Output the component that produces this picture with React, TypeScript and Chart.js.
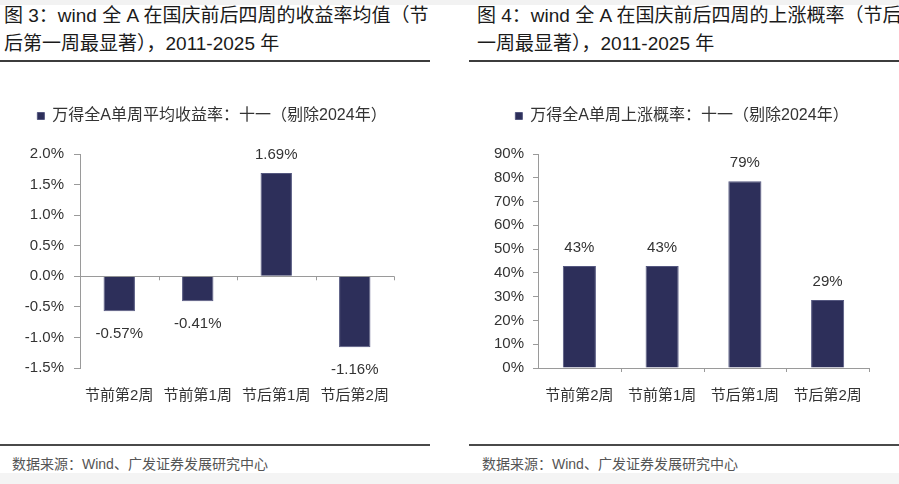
import { useEffect, useRef } from "react";
import { Chart, registerables } from "chart.js";

Chart.register(...registerables);

// data
const categories = ["节前第2周", "节前第1周", "节后第1周", "节后第2周"];
const returnValues = [-0.57, -0.41, 1.69, -1.16];
const riseValues = [42.86, 42.86, 78.57, 28.57];
const returnTicks = [-1.5, -1.0, -0.5, 0, 0.5, 1.0, 1.5, 2.0];
const riseTicks = [0, 10, 20, 30, 40, 50, 60, 70, 80, 90];
const returnLegend = "万得全A单周平均收益率：十一（剔除2024年）";
const riseLegend = "万得全A单周上涨概率：十一（剔除2024年）";

const FONT = '"Liberation Sans", Arial, "Noto Sans CJK SC", sans-serif';
const BAR = "#2d2f5a";
const AXIS = "#9a9a9a";
const TEXT = "#333333";

// extra room under the legend, and a sideways nudge of the legend box
const legendTweak = (gap: number, shift: number) => ({
  id: "legendTweak",
  afterInit(chart: any) {
    const legend = chart.legend;
    if (!legend || legend._gapped) return;
    const fit = legend.fit;
    legend.fit = function () {
      fit.call(this);
      this.height += gap;
    };
    legend._gapped = true;
  },
  afterLayout(chart: any) {
    const legend = chart.legend;
    if (!legend) return;
    legend.left += shift;
    legend.right += shift;
  },
});

// small tick marks hanging from the zero line at category boundaries
const zeroTicks = {
  id: "zeroTicks",
  afterDatasetsDraw(chart: any) {
    const { ctx } = chart;
    const xs = chart.scales.x;
    const y0 = chart.scales.y.getPixelForValue(0);
    const n = chart.data.labels.length;
    ctx.save();
    ctx.strokeStyle = AXIS;
    ctx.lineWidth = 1;
    for (let i = 1; i <= n; i++) {
      const px = Math.round(xs.left + (i * xs.width) / n) + 0.5;
      ctx.beginPath();
      ctx.moveTo(px, y0);
      ctx.lineTo(px, y0 + 4);
      ctx.stroke();
    }
    ctx.restore();
  },
};

const valueLabels = (format: (v: number) => string) => ({
  id: "valueLabels",
  afterDatasetsDraw(chart: any) {
    const { ctx } = chart;
    const meta = chart.getDatasetMeta(0);
    const data = chart.data.datasets[0].data as number[];
    ctx.save();
    ctx.font = `15px ${FONT}`;
    ctx.fillStyle = TEXT;
    ctx.textAlign = "center";
    ctx.textBaseline = "middle";
    meta.data.forEach((bar: any, i: number) => {
      const v = data[i];
      const y = v >= 0 ? bar.y - 18 : bar.y + 23;
      ctx.fillText(format(v), bar.x, y);
    });
    ctx.restore();
  },
});

type PanelProps = {
  values: number[];
  ticks: number[];
  legend: string;
  tickFormat: (v: number) => string;
  valueFormat: (v: number) => string;
  axisWidth: number;
  padRight: number;
  tickLength: number;
  tickPadding: number;
  legendShift: number;
};

const BarPanel = (p: PanelProps) => {
  const chartRef = useRef<HTMLCanvasElement>(null);

  useEffect(() => {
    if (!chartRef.current) return;

    const chartInstance = new Chart(chartRef.current, {
      type: "bar",
      data: {
        labels: categories,
        datasets: [
          {
            label: p.legend,
            data: p.values,
            backgroundColor: BAR,
            borderColor: "#555880",
            borderWidth: 1,
            barPercentage: 0.4,
            categoryPercentage: 1,
          },
        ],
      },
      options: {
        responsive: true,
        maintainAspectRatio: false,
        animation: false,
        layout: { padding: { top: 0, right: p.padRight, bottom: 0, left: 0 } },
        plugins: {
          tooltip: { enabled: false },
          legend: {
            display: true,
            position: "top",
            labels: {
              boxWidth: 7,
              boxHeight: 7,
              padding: 18,
              color: TEXT,
              font: { family: FONT, size: 16 },
            },
          },
        },
        scales: {
          x: {
            grid: { display: false, drawTicks: false },
            border: { display: false },
            ticks: {
              color: TEXT,
              padding: 19,
              font: { family: FONT, size: 15 },
              maxRotation: 0,
            },
          },
          y: {
            min: p.ticks[0],
            max: p.ticks[p.ticks.length - 1],
            afterBuildTicks: (scale: any) => {
              scale.ticks = p.ticks.map((v) => ({ value: v }));
            },
            afterFit: (scale: any) => {
              scale.width = p.axisWidth;
            },
            grid: {
              drawTicks: true,
              tickLength: p.tickLength,
              tickColor: AXIS,
              color: (ctx: any) =>
                ctx.tick && Math.abs(ctx.tick.value) < 1e-9 ? AXIS : "rgba(0,0,0,0)",
            },
            border: { display: true, color: AXIS, width: 1 },
            ticks: {
              color: TEXT,
              padding: p.tickPadding,
              font: { family: FONT, size: 15 },
              callback: (v: any) => p.tickFormat(Number(v)),
            },
          },
        },
      },
      plugins: [legendTweak(20, p.legendShift), zeroTicks, valueLabels(p.valueFormat)],
    });

    return () => {
      chartInstance.destroy();
    };
  }, []);

  return <canvas ref={chartRef}></canvas>;
};

const titleStyle: any = {
  position: "absolute",
  top: 2,
  fontSize: 19,
  fontWeight: 400,
  lineHeight: "28px",
  color: "#1a1a1a",
  whiteSpace: "nowrap",
  fontFamily: FONT,
};

const rule = (left: number, top: number, width: number, h: number, c: string): any => ({
  position: "absolute",
  left,
  top,
  width,
  height: h,
  background: c,
});

const sourceStyle: any = {
  position: "absolute",
  top: 455,
  fontSize: 14,
  lineHeight: "18px",
  color: "#555",
  whiteSpace: "nowrap",
  fontFamily: FONT,
};

export default function App() {
  return (
    <div
      style={{
        position: "fixed",
        left: 0,
        top: 0,
        width: 899,
        height: 484,
        background: "#fff",
        overflow: "hidden",
      }}
    >
      <div style={rule(0, 0, 899, 5, "#f2f2f2")} />

      <div style={{ ...titleStyle, left: 4 }}>
        图 3：wind 全 A 在国庆前后四周的收益率均值（节
        <br />
        后第一周最显著），2011-2025 年
      </div>
      <div style={{ ...titleStyle, left: 477 }}>
        图 4：wind 全 A 在国庆前后四周的上涨概率（节后第
        <br />
        一周最显著），2011-2025 年
      </div>
      <div style={rule(0, 60, 430, 2, "#3c3c3c")} />
      <div style={rule(469, 60, 430, 2, "#3c3c3c")} />

      <div style={{ position: "absolute", left: 0, top: 90, width: 430, height: 334 }}>
        <BarPanel
          values={returnValues}
          ticks={returnTicks}
          legend={returnLegend}
          tickFormat={(v) => v.toFixed(1) + "%"}
          valueFormat={(v) => v.toFixed(2) + "%"}
          axisWidth={80}
          padRight={36}
          tickLength={6}
          tickPadding={10}
          legendShift={15}
        />
      </div>
      <div style={{ position: "absolute", left: 469, top: 90, width: 430, height: 334 }}>
        <BarPanel
          values={riseValues}
          ticks={riseTicks}
          legend={riseLegend}
          tickFormat={(v) => Math.round(v) + "%"}
          valueFormat={(v) => Math.round(v) + "%"}
          axisWidth={69}
          padRight={30}
          tickLength={5}
          tickPadding={9}
          legendShift={13}
        />
      </div>

      <div style={rule(0, 444, 430, 2, "#4a4a4a")} />
      <div style={rule(469, 444, 430, 2, "#4a4a4a")} />
      <div style={{ ...sourceStyle, left: 12 }}>数据来源：Wind、广发证券发展研究中心</div>
      <div style={{ ...sourceStyle, left: 482 }}>数据来源：Wind、广发证券发展研究中心</div>

      <div style={rule(0, 473, 899, 11, "#f4f4f4")} />
    </div>
  );
}
